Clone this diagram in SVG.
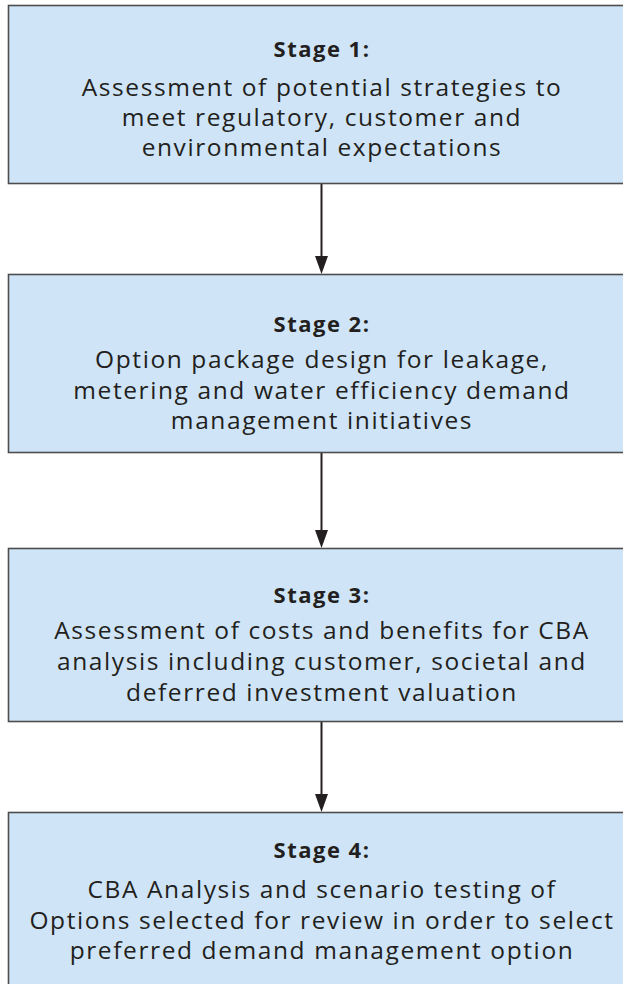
<svg xmlns="http://www.w3.org/2000/svg" width="623" height="984" viewBox="0 0 623 984">
<style>
.box{fill:#cfe5f7;stroke:#4d4d4f;stroke-width:1.6}
.h{font-family:"Open Sans",Lato,sans-serif;font-weight:bold;font-size:22px;letter-spacing:1.5px;fill:#231f20;text-anchor:middle}
.t{font-family:"Open Sans",Lato,sans-serif;font-size:24.5px;letter-spacing:1.6px;fill:#231f20;text-anchor:middle}
.c{stroke:#231f20;stroke-width:2;fill:none}
.a{fill:#231f20}
</style>
<g id="connectors">
<path class="c" d="M321.5,184 V257"/>
<polygon class="a" points="315,256 328,256 321.5,274"/>
<path class="c" d="M321.5,453 V531"/>
<polygon class="a" points="315,530 328,530 321.5,548"/>
<path class="c" d="M321.5,722 V795"/>
<polygon class="a" points="315,794 328,794 321.5,812"/>
</g>
<g id="stage1">
<rect class="box" x="8.5" y="5.5" width="620" height="178"/>
<text class="h" x="322" y="57">Stage 1:</text>
<text class="t" x="322" y="96">Assessment of potential strategies to</text>
<text class="t" x="322" y="126">meet regulatory, customer and</text>
<text class="t" x="322" y="156">environmental expectations</text>
</g>
<g id="stage2">
<rect class="box" x="8.5" y="274.5" width="620" height="178"/>
<text class="h" x="322" y="332">Stage 2:</text>
<text class="t" x="322" y="368">Option package design for leakage,</text>
<text class="t" x="322" y="399">metering and water efficiency demand</text>
<text class="t" x="322" y="429">management initiatives</text>
</g>
<g id="stage3">
<rect class="box" x="8.5" y="548.5" width="620" height="173"/>
<text class="h" x="322" y="603">Stage 3:</text>
<text class="t" x="322" y="639">Assessment of costs and benefits for CBA</text>
<text class="t" x="322" y="670">analysis including customer, societal and</text>
<text class="t" x="322" y="701">deferred investment valuation</text>
</g>
<g id="stage4">
<rect class="box" x="8.5" y="812.5" width="620" height="180"/>
<text class="h" x="322" y="858">Stage 4:</text>
<text class="t" x="322" y="898">CBA Analysis and scenario testing of</text>
<text class="t" x="322" y="929">Options selected for review in order to select</text>
<text class="t" x="322" y="959">preferred demand management option</text>
</g>
</svg>
